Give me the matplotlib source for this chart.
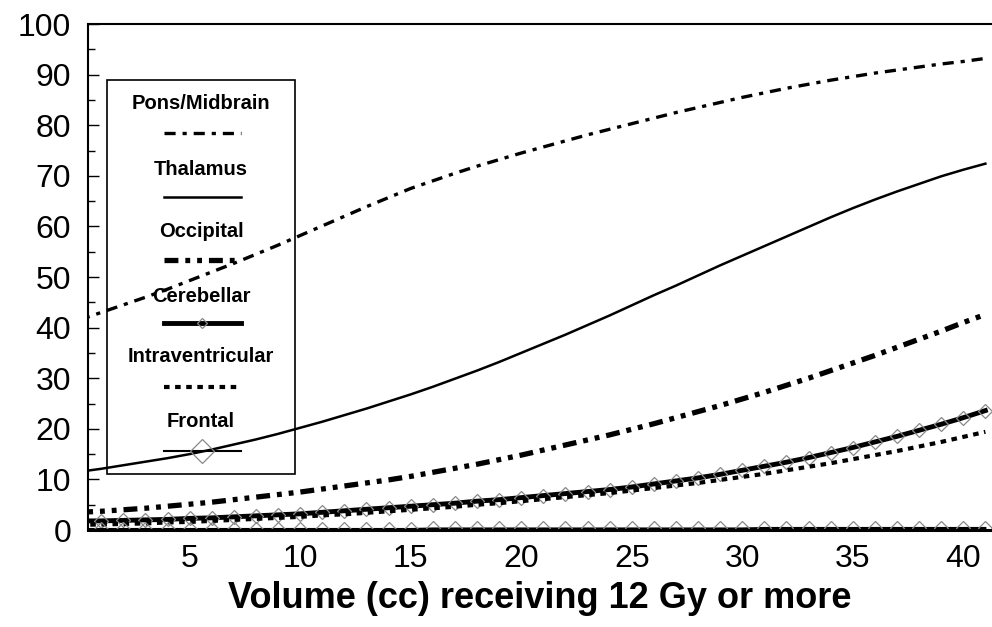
import matplotlib.pyplot as plt
from matplotlib.patches import Rectangle
from matplotlib.lines import Line2D

plt.rcParams['font.family'] = ['Liberation Sans', 'DejaVu Sans']
plt.rcParams['lines.scale_dashes'] = False

# volume (cc) receiving 12 Gy or more
volume = list(range(0, 42))

pons_midbrain = [41.5, 43.0, 44.5, 46.0, 47.6, 49.3, 51.0, 52.7, 54.5, 56.3,
                 58.2, 60.1, 62.0, 63.9, 65.7, 67.5, 69.0, 70.5, 71.9, 73.2,
                 74.5, 75.7, 76.9, 78.1, 79.2, 80.3, 81.4, 82.5, 83.5, 84.5,
                 85.5, 86.4, 87.3, 88.1, 88.9, 89.6, 90.3, 90.9, 91.5, 92.1,
                 92.6, 93.2]
thalamus = [11.5, 12.1, 12.8, 13.5, 14.2, 15.0, 15.9, 16.9, 17.9, 19.0,
            20.2, 21.4, 22.7, 24.0, 25.4, 26.8, 28.3, 29.9, 31.5, 33.2,
            35.0, 36.8, 38.6, 40.5, 42.4, 44.4, 46.4, 48.3, 50.3, 52.3,
            54.2, 56.1, 58.0, 59.9, 61.8, 63.6, 65.3, 66.9, 68.4, 69.9,
            71.2, 72.4]
occipital = [3.5, 3.7, 4.0, 4.3, 4.7, 5.1, 5.5, 6.0, 6.5, 7.0,
             7.5, 8.1, 8.7, 9.3, 9.9, 10.6, 11.4, 12.2, 13.0, 13.9,
             14.8, 15.8, 16.8, 17.8, 18.8, 19.9, 21.0, 22.2, 23.4, 24.6,
             25.9, 27.2, 28.6, 30.0, 31.5, 33.0, 34.5, 36.1, 37.7, 39.3,
             41.0, 42.6]
cerebellar = [1.8, 1.8, 1.9, 2.0, 2.1, 2.3, 2.4, 2.6, 2.8, 3.0,
              3.2, 3.5, 3.8, 4.1, 4.4, 4.7, 5.0, 5.3, 5.7, 6.0,
              6.4, 6.8, 7.2, 7.6, 8.0, 8.5, 9.1, 9.7, 10.3, 11.0,
              11.8, 12.6, 13.4, 14.3, 15.3, 16.3, 17.4, 18.5, 19.7, 20.9,
              22.2, 23.6]
intraventricular = [1.0, 1.1, 1.2, 1.3, 1.5, 1.6, 1.8, 2.0, 2.2, 2.4,
                    2.6, 2.9, 3.1, 3.4, 3.7, 4.0, 4.3, 4.6, 5.0, 5.3,
                    5.7, 6.1, 6.5, 6.9, 7.3, 7.8, 8.3, 8.8, 9.3, 9.9,
                    10.5, 11.1, 11.8, 12.5, 13.2, 14.0, 14.8, 15.6, 16.5, 17.4,
                    18.4, 19.4]
frontal = [0.2, 0.2, 0.2, 0.2, 0.2, 0.2, 0.2, 0.2, 0.2, 0.2,
           0.2, 0.2, 0.2, 0.2, 0.2, 0.2, 0.3, 0.3, 0.3, 0.3,
           0.3, 0.3, 0.3, 0.3, 0.3, 0.3, 0.3, 0.3, 0.3, 0.3,
           0.3, 0.4, 0.4, 0.4, 0.4, 0.4, 0.4, 0.4, 0.4, 0.4,
           0.4, 0.4]

# line styles per location
styles = {
    'Pons/Midbrain': dict(color='black', lw=2.4, ls=(0, (8, 5, 3, 5))),
    'Thalamus': dict(color='black', lw=1.8, ls='-'),
    'Occipital': dict(color='black', lw=3.8, ls=(0, (10, 5, 3.5, 5, 3.5, 5))),
    'Cerebellar': dict(color='black', lw=3.5, ls='-', marker='D', ms=7.5,
                       mfc='none', mec='#888888', mew=0.9),
    'Intraventricular': dict(color='black', lw=3.0, ls=(0, (4, 4))),
    'Frontal': dict(color='black', lw=1.5, ls='-', marker='D', ms=7.5,
                    mfc='none', mec='#888888', mew=0.9),
}
series = {
    'Pons/Midbrain': pons_midbrain,
    'Thalamus': thalamus,
    'Occipital': occipital,
    'Cerebellar': cerebellar,
    'Intraventricular': intraventricular,
    'Frontal': frontal,
}

fig = plt.figure(figsize=(9.92, 6.27), dpi=100)
ax = fig.add_axes([0.0887, 0.1547, 0.9113, 0.807])

for name, vals in series.items():
    st = dict(styles[name])
    ax.plot(volume, vals, dash_capstyle='butt', **st)

ax.set_xlim(0.4, 41.3)
ax.set_ylim(0, 100)
ax.set_xticks([5, 10, 15, 20, 25, 30, 35, 40])
ax.set_yticks(range(0, 101, 10))
ax.set_yticks(range(5, 100, 10), minor=True)
ax.tick_params(axis='y', which='major', direction='in', length=8, width=1,
               labelsize=23, pad=12)
ax.tick_params(axis='y', which='minor', direction='in', length=5, width=1)
ax.tick_params(axis='x', direction='in', length=0, labelsize=23, pad=10)
ax.spines['right'].set_visible(False)
ax.spines['bottom'].set_linewidth(2.2)
for s in ['left', 'top']:
    ax.spines[s].set_linewidth(1.5)

ax.set_xlabel('Volume (cc) receiving 12 Gy or more', fontsize=26,
              fontweight='bold', labelpad=5)

# legend box drawn by hand (label above sample line), see-through
ax.add_patch(Rectangle((0.021, 0.111), 0.208, 0.778, transform=ax.transAxes,
                       fill=False, edgecolor='black', lw=1.2, zorder=5))
text_y = [0.842, 0.713, 0.589, 0.462, 0.342, 0.215]
line_y = [0.785, 0.658, 0.534, 0.409, 0.283, 0.156]
for name, ty, ly in zip(series.keys(), text_y, line_y):
    ax.text(0.125, ty, name, transform=ax.transAxes, ha='center', va='center',
            fontsize=14.5, fontweight='bold', zorder=6)
    st = dict(styles[name])
    if 'marker' in st:
        st['markevery'] = [1]
        if name == 'Frontal':
            st['ms'] = 12
        else:
            st['ms'] = 5
    ax.add_line(Line2D([0.084, 0.1265, 0.169], [ly, ly, ly],
                       transform=ax.transAxes, zorder=6, **st))

fig.savefig('out.png', dpi=100)
